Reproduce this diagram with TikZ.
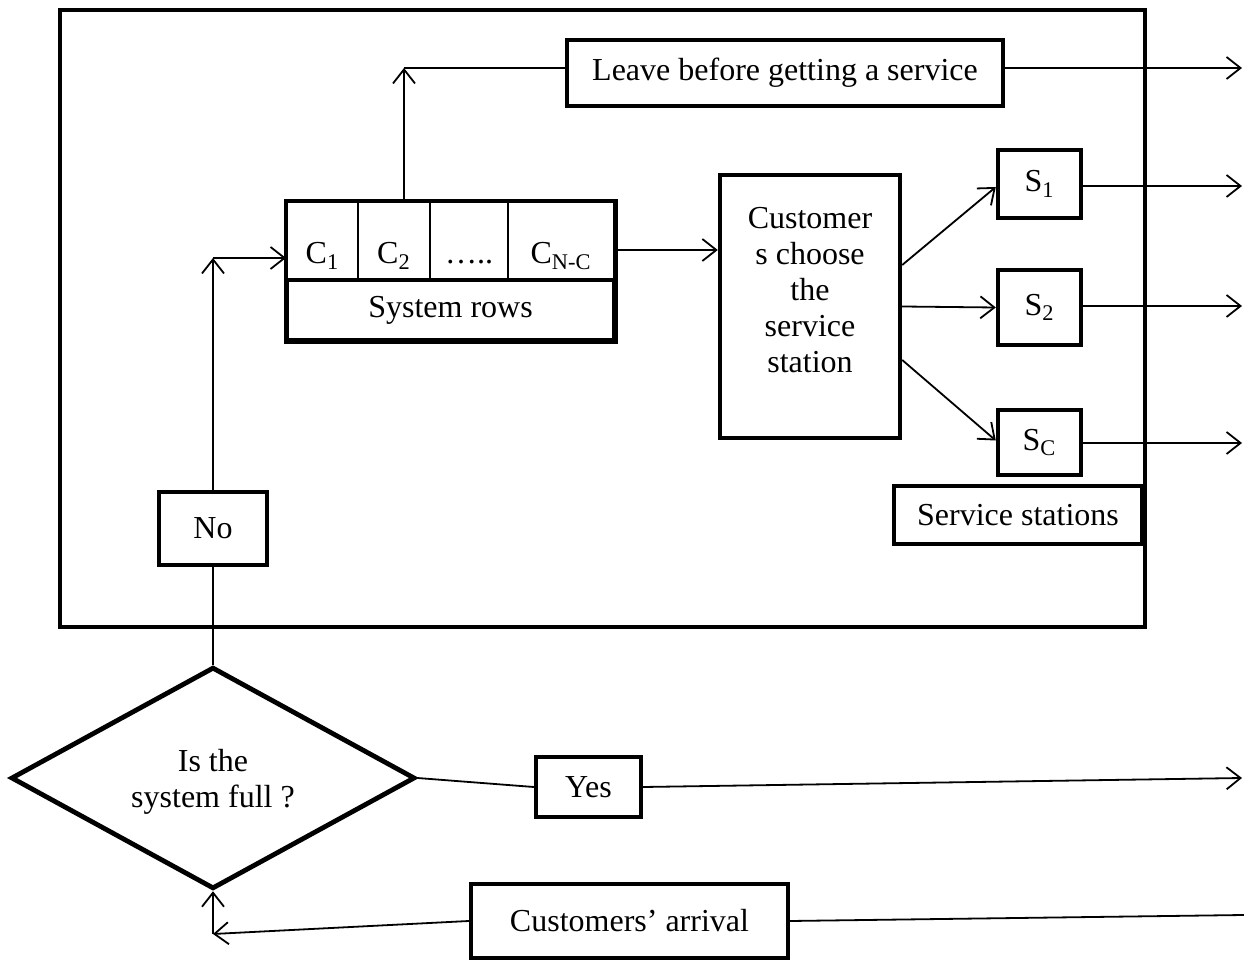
\documentclass[tikz,border=0pt]{standalone}
\usepackage{fontspec}
\setmainfont{Liberation Serif}
\usetikzlibrary{shapes.geometric,arrows.meta}
\tikzstyle{mybox} = [draw=black, fill=white, line width=2.2pt,
    rectangle, inner sep=0pt, align=center]
\tikzstyle{cell} = [draw=black, line width=1pt, rectangle, inner sep=0pt,
    minimum height=39pt, text height=31pt, text depth=8pt]
\tikzstyle{decision} = [draw=black, fill=white, line width=2.4pt, diamond,
    inner sep=0pt, align=center, minimum width=202pt, minimum height=99pt]
\tikzstyle{conn} = [line width=0.9pt, -{Straight Barb[length=7pt,width=11pt]}]
\tikzstyle{link} = [line width=0.9pt]

\begin{document}
\begin{tikzpicture}[x=0.5pt, y=-0.5pt, font=\fontsize{16}{18}\selectfont]
    \useasboundingbox (0,0) rectangle (1244,962);
    % system frame
    \draw[line width=2.4pt] (60,10) rectangle (1145,627);

    \node[mybox, minimum width=218pt, minimum height=33pt] (leave) at (785,73) {Leave before getting a service};

    % queue
    \node[cell, minimum width=35.5pt] (c1) at (322.5,241) {C\textsubscript{1}};
    \node[cell, minimum width=36pt] (c2) at (394,241) {C\textsubscript{2}};
    \node[cell, minimum width=39pt] (dots) at (469,241) {…..};
    \node[cell, minimum width=53pt] (cnc) at (561,241) {C\textsubscript{N-C}};
    \node[mybox, minimum width=163.5pt, minimum height=30pt] (sysrow) at (450.5,310) {System rows};
    \draw[line width=2.2pt] (c1.north west) rectangle (sysrow.south east);

    \node[mybox, minimum width=90pt, minimum height=131.5pt,
        label={[align=center, yshift=8pt]center:Customer\\s choose\\the\\service\\station}] (choose) at (810,306.5) {};

    % service stations
    \node[mybox, minimum width=41.5pt, minimum height=34pt] (s1) at (1039.5,184) {S\textsubscript{1}};
    \node[mybox, minimum width=41.5pt, minimum height=37.5pt] (s2) at (1039.5,307.5) {S\textsubscript{2}};
    \node[mybox, minimum width=41.5pt, minimum height=32.5pt] (sc) at (1039.5,442.5) {S\textsubscript{C}};
    \node[mybox, minimum width=124pt, minimum height=29pt] (stations) at (1018,515) {Service stations};

    \node[mybox, minimum width=54pt, minimum height=36.5pt] (no) at (213,528.5) {No};
    \node[decision, text depth=-3pt] (full) at (213,778) {Is the\\system full ?};
    \node[mybox, minimum width=52.5pt, minimum height=30pt] (yes) at (588.5,787) {Yes};
    \node[mybox, minimum width=158.5pt, minimum height=37pt] (arrival) at (629.5,921) {Customers’ arrival};

    \coordinate (arrin) at (1244,915);
    \coordinate (arrcorner) at (213,934);
    \coordinate (nocorner) at (213,258);
    \coordinate (leavecorner) at (404,68);
    \coordinate (leaveout) at (1242,68);
    \coordinate (s1out) at (1242,186);
    \coordinate (s2out) at (1242,306);
    \coordinate (scout) at (1242,443);
    \coordinate (yesout) at (1242,778);

    % arrivals
    \draw[link] (arrin) -- (arrival.east);
    \draw[conn] (arrival.west) -- (arrcorner);
    \draw[conn] (arrcorner) -- (full.south);
    \draw[link] (full.east) -- (yes.west);
    \draw[conn] (yes.east) -- (yesout);
    \draw[link] (full.north) -- (no.south);
    \draw[conn] (no.north) -- (nocorner);
    \draw[conn] (nocorner) -- (nocorner -| c1.west);

    % queue
    \draw[conn] ([xshift=5pt]c2.north) -- (leavecorner);
    \draw[link] (leavecorner) -- (leavecorner -| leave.west);
    \draw[conn] (leave.east |- leaveout) -- (leaveout);
    \draw[conn] ([yshift=-4.5pt]cnc.east) -- ([yshift=-4.5pt]cnc.east -| choose.west);

    % service
    \draw[conn] ([yshift=20.75pt]choose.east) -- ([yshift=-1.5pt]s1.west);
    \draw[conn] (choose.east) -- (s2.west);
    \draw[conn] ([yshift=-26.75pt]choose.east) -- ([yshift=1pt]sc.west);
    \draw[conn] (s1.east |- s1out) -- (s1out);
    \draw[conn] (s2.east |- s2out) -- (s2out);
    \draw[conn] (sc.east |- scout) -- (scout);
\end{tikzpicture}
\end{document}
